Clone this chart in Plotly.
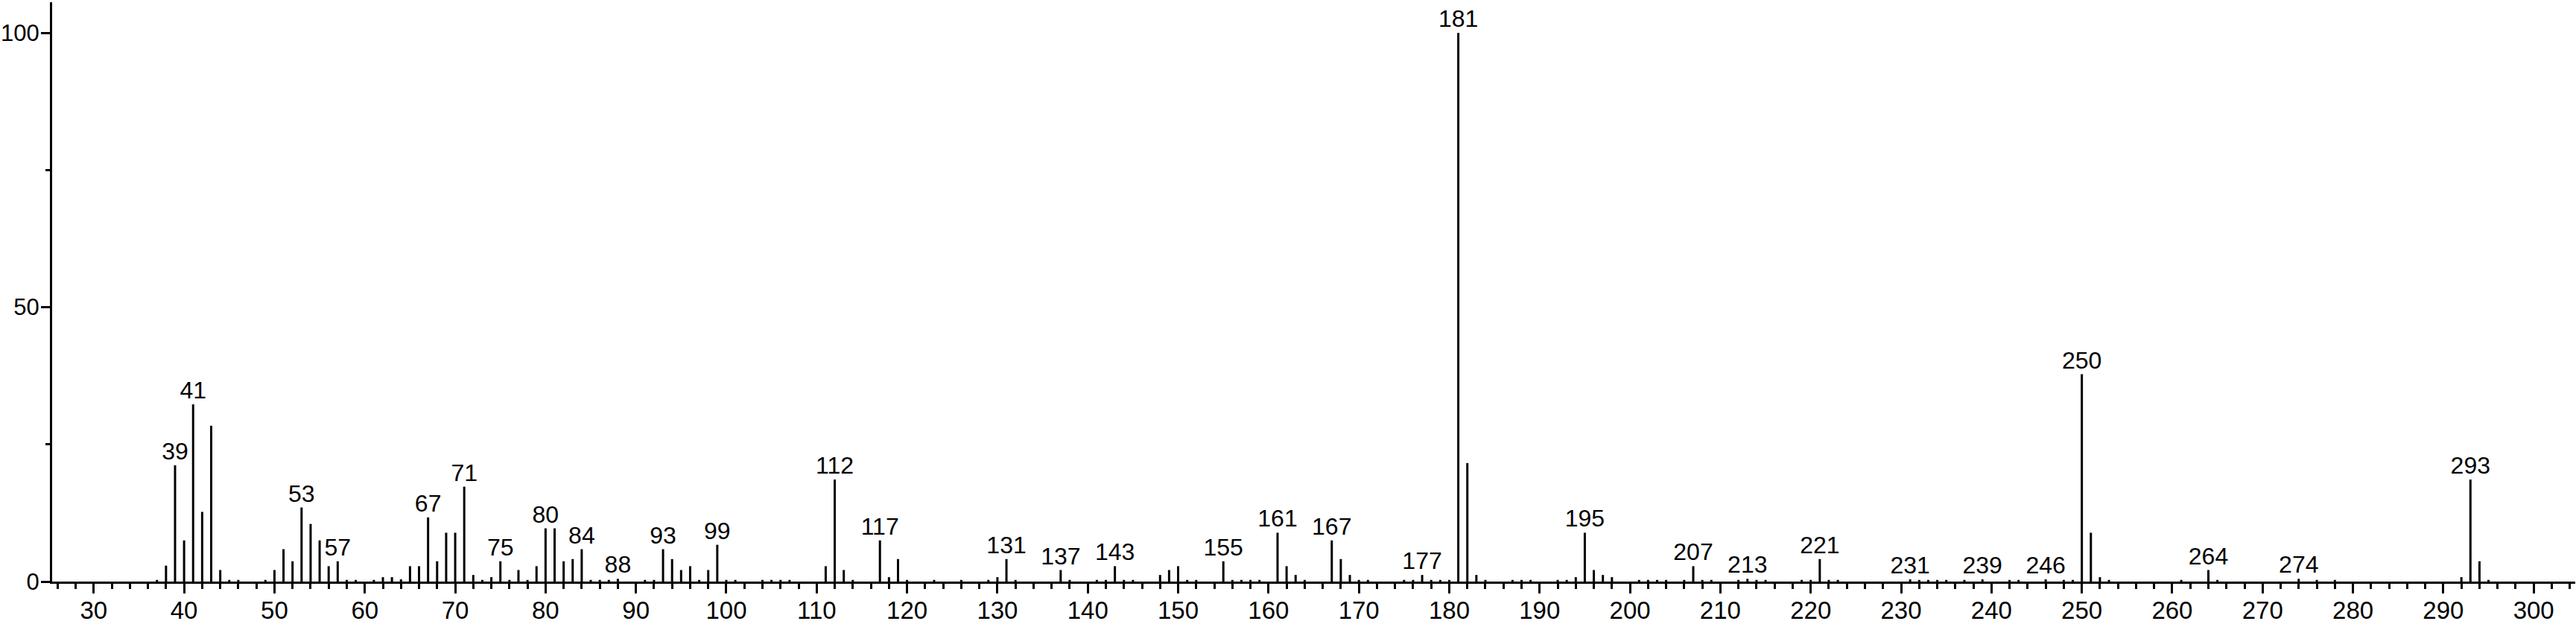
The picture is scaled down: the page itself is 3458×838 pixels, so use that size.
import subprocess
import plotly.graph_objects as go

# m/z values and relative intensities (%)
mz = [37, 38, 39, 40, 41, 42, 43, 44, 45, 46, 49, 50, 51, 52, 53, 54, 55, 56, 57, 58,
      59, 61, 62, 63, 64, 65, 66, 67, 68, 69, 70, 71, 72, 73, 74, 75, 76, 77, 78, 79,
      80, 81, 82, 83, 84, 85, 86, 87, 88, 91, 92, 93, 94, 95, 96, 97, 98, 99, 100, 101,
      104, 105, 106, 107, 111, 112, 113, 114, 117, 118, 119, 120, 123, 126, 129, 130, 131, 132, 137, 138,
      141, 142, 143, 144, 145, 148, 149, 150, 151, 152, 155, 156, 157, 158, 159, 161, 162, 163, 164, 167,
      168, 169, 170, 171, 175, 176, 177, 178, 179, 180, 181, 182, 183, 184, 187, 188, 189, 192, 193, 194,
      195, 196, 197, 198, 201, 202, 203, 204, 206, 207, 208, 209, 212, 213, 214, 215, 219, 220, 221, 222,
      223, 231, 232, 233, 234, 235, 237, 239, 242, 243, 246, 248, 249, 250, 251, 252, 253, 261, 264, 265,
      274, 276, 278, 292, 293, 294, 295]
intensity = [0.3, 2.9, 21.2, 7.5, 32.3, 12.7, 28.4, 2.1, 0.3, 0.3, 0.3, 2.1, 5.9, 3.7, 13.5, 10.5, 7.5, 2.8, 3.7, 0.3,
             0.3, 0.3, 0.8, 0.8, 0.4, 2.8, 2.8, 11.7, 3.7, 8.9, 8.9, 17.3, 1.2, 0.3, 0.8, 3.7, 0.3, 2.1, 0.3, 2.8,
             9.7, 9.7, 3.7, 4.1, 5.9, 0.3, 0.3, 0.3, 0.5, 0.3, 0.3, 5.9, 4.1, 2.1, 2.8, 0.3, 2.1, 6.7, 0.3, 0.3,
             0.3, 0.3, 0.3, 0.3, 2.8, 18.6, 2.1, 0.3, 7.5, 0.8, 4.1, 0.3, 0.3, 0.3, 0.3, 0.8, 4.1, 0.3, 2.1, 0.3,
             0.3, 0.3, 2.8, 0.3, 0.3, 1.2, 2.1, 2.8, 0.3, 0.3, 3.7, 0.3, 0.3, 0.3, 0.3, 8.9, 2.8, 1.2, 0.3, 7.5,
             4.1, 1.2, 0.3, 0.3, 0.3, 0.3, 1.2, 0.3, 0.3, 0.3, 100.0, 21.6, 1.2, 0.3, 0.3, 0.3, 0.3, 0.3, 0.3, 0.8,
             8.9, 2.1, 1.2, 0.8, 0.3, 0.3, 0.3, 0.3, 0.3, 2.8, 0.3, 0.3, 0.3, 0.5, 0.3, 0.3, 0.3, 0.3, 4.1, 0.3,
             0.3, 0.4, 0.3, 0.3, 0.3, 0.3, 0.3, 0.4, 0.3, 0.3, 0.4, 0.3, 0.3, 37.8, 8.9, 0.8, 0.3, 0.3, 2.1, 0.3,
             0.5, 0.3, 0.3, 0.8, 18.6, 3.7, 0.3]

# peaks that carry an m/z annotation
labelled = [39, 41, 53, 57, 67, 71, 75, 80, 84, 88, 93, 99, 112, 117, 131, 137, 143, 155,
            161, 167, 177, 181, 195, 207, 213, 221, 231, 239, 246, 250, 264, 274, 293]

x_ticks = list(range(30, 301, 10))
y_ticks = [0, 50, 100]
y_minor = [25, 75]

lookup = dict(zip(mz, intensity))
label_y = [lookup[m] for m in labelled]
label_text = [str(m) for m in labelled]

# stick spectrum: one vertical segment per peak, built from the data arrays
stick_x, stick_y = [], []
for m, v in zip(mz, intensity):
    stick_x += [m, m, None]
    stick_y += [0, v, None]

FONT = "Liberation Sans, Arial, sans-serif"

# the y tick labels of the reference are a condensed face; use one if installed
try:
    fams = subprocess.run(["fc-list", ":", "family"], capture_output=True, text=True).stdout
except Exception:
    fams = ""
if "Liberation Sans Narrow" in fams:
    YFONT, YSIZE = "Liberation Sans Narrow", 36
else:
    YFONT, YSIZE = FONT, 31

fig = go.Figure()
fig.add_trace(go.Scatter(x=stick_x, y=stick_y, mode="lines",
                         line=dict(color="black", width=3),
                         showlegend=False, hoverinfo="skip", cliponaxis=False))
fig.add_trace(go.Scatter(x=labelled, y=label_y, text=label_text, mode="text",
                         textposition="top center",
                         textfont=dict(family=FONT, size=32, color="black"),
                         cliponaxis=False, showlegend=False, hoverinfo="skip"))

fig.update_layout(
    width=3458, height=838,
    margin=dict(l=70, r=1, t=3, b=57, autoexpand=False),
    paper_bgcolor="white", plot_bgcolor="white",
    xaxis=dict(range=[25.4, 304.6], tickvals=x_ticks, ticktext=[str(v) for v in x_ticks],
               automargin=False, ticklabelstandoff=-6,
               ticks="outside", ticklen=13, tickwidth=3, tickcolor="black",
               showline=True, linewidth=3, linecolor="black",
               showgrid=False, zeroline=False,
               tickfont=dict(family=FONT, size=33, color="black"),
               minor=dict(dtick=2, tick0=0, ticks="outside", ticklen=7, tickwidth=3,
                          tickcolor="black", showgrid=False)),
    yaxis=dict(range=[0, 105.6], tickvals=y_ticks, ticktext=[str(v) for v in y_ticks],
               automargin=False, ticklabelstandoff=-4,
               ticks="outside", ticklen=12, tickwidth=3, tickcolor="black",
               showline=True, linewidth=3, linecolor="black",
               showgrid=False, zeroline=False,
               tickfont=dict(family=YFONT, size=YSIZE, color="black"),
               minor=dict(tickvals=y_minor, ticks="outside", ticklen=6, tickwidth=3,
                          tickcolor="black", showgrid=False)),
)

fig.write_html("out.html",
               config={"displayModeBar": False},
               post_script="document.body.style.margin='0';"
                           "document.body.style.overflow='hidden';")
